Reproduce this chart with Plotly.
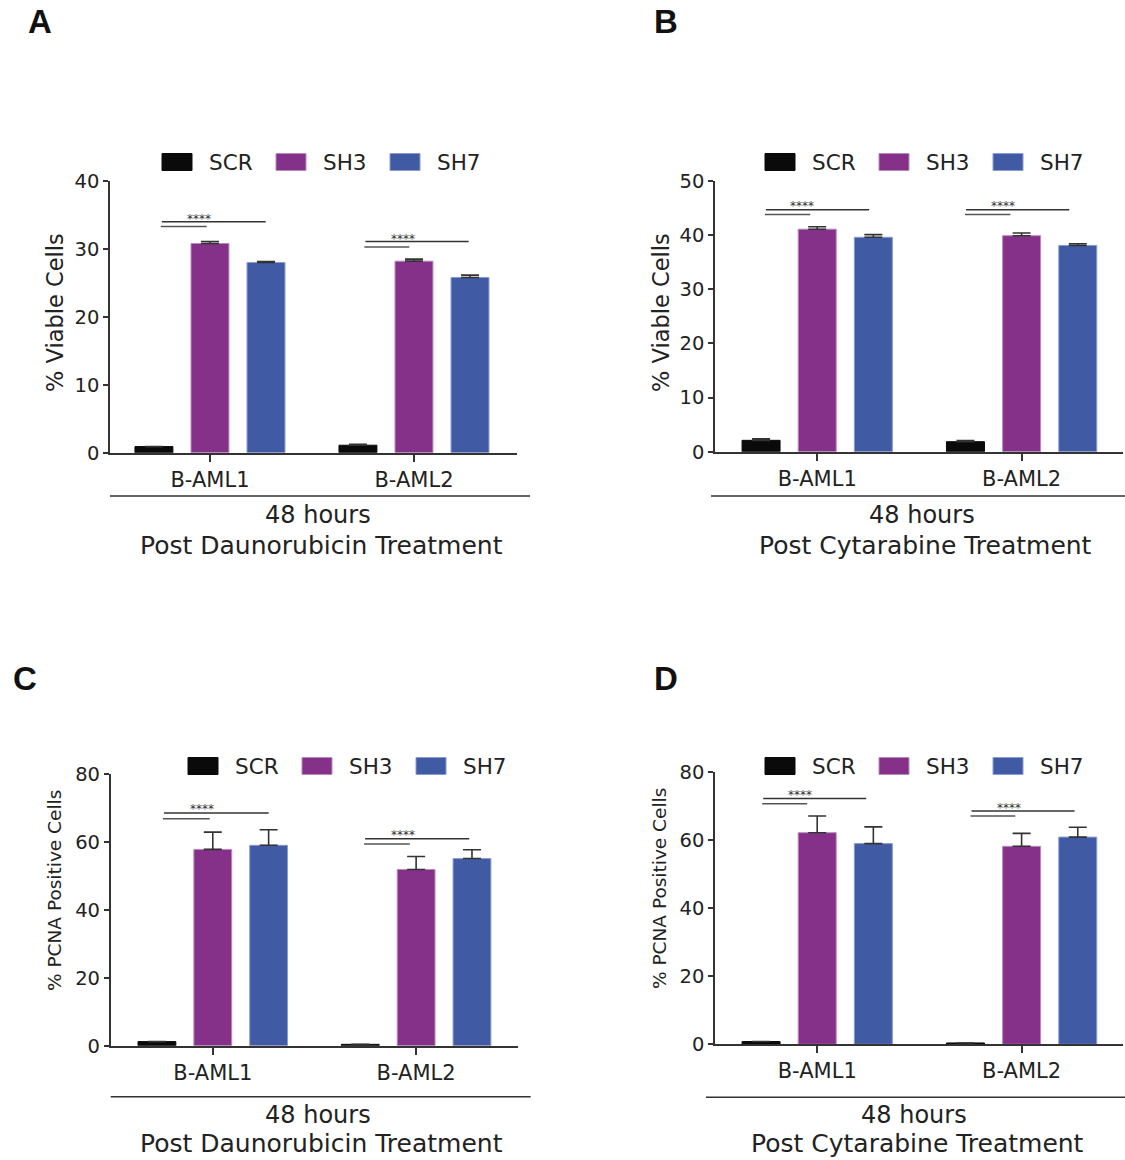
import plotly.graph_objects as go

W, H = 1125, 1160

# ---------------- data ----------------
groups = ["B-AML1", "B-AML2"]
series = ["SCR", "SH3", "SH7"]
colors = ["#0a0a0a", "#853189", "#405aa4"]
edge_colors = ["#0a0a0a", "#b98bbc", "#8a9bd0"]

# Panel A: % viable cells, daunorubicin
a_scr = [0.9, 1.1]
a_sh3 = [30.8, 28.2]
a_sh7 = [28.0, 25.8]
a_scr_err = [0.0, 0.15]
a_sh3_err = [0.3, 0.3]
a_sh7_err = [0.15, 0.35]

# Panel B: % viable cells, cytarabine
b_scr = [2.1, 1.85]
b_sh3 = [41.1, 39.9]
b_sh7 = [39.6, 38.1]
b_scr_err = [0.3, 0.2]
b_sh3_err = [0.45, 0.5]
b_sh7_err = [0.5, 0.3]

# Panel C: % PCNA positive, daunorubicin
c_scr = [1.2, 0.4]
c_sh3 = [57.8, 51.9]
c_sh7 = [59.0, 55.1]
c_scr_err = [0.0, 0.0]
c_sh3_err = [5.1, 3.8]
c_sh7_err = [4.6, 2.6]

# Panel D: % PCNA positive, cytarabine
d_scr = [0.8, 0.4]
d_sh3 = [62.1, 58.1]
d_sh7 = [58.9, 60.8]
d_scr_err = [0.0, 0.0]
d_sh3_err = [4.9, 3.8]
d_sh7_err = [4.9, 2.9]

# y tick values
a_ticks = [0, 10, 20, 30, 40]
b_ticks = [0, 10, 20, 30, 40, 50]
c_ticks = [0, 20, 40, 60, 80]
d_ticks = [0, 20, 40, 60, 80]

# significance brackets (per group): start x, long-line end, short-line end, long y, short y
a_sig_x0 = [-0.236, -0.238]
a_sig_x1_long = [0.273, 0.268]
a_sig_x1_short = [-0.016, -0.023]
a_sig_y_long = [34.0, 31.1]
a_sig_y_short = [33.3, 30.3]
a_star_x = [-0.054, -0.055]
a_star_y = [34.9, 31.9]

b_sig_x0 = [-0.251, -0.272]
b_sig_x1_long = [0.254, 0.233]
b_sig_x1_short = [-0.034, -0.055]
b_sig_y_long = [44.7, 44.7]
b_sig_y_short = [43.8, 43.8]
b_star_x = [-0.072, -0.09]
b_star_y = [46.0, 46.0]

c_sig_x0 = [-0.240, -0.251]
c_sig_x1_long = [0.275, 0.261]
c_sig_x1_short = [-0.015, -0.031]
c_sig_y_long = [68.5, 60.9]
c_sig_y_short = [66.8, 59.4]
c_star_x = [-0.054, -0.064]
c_star_y = [70.6, 62.9]

d_sig_x0 = [-0.264, -0.245]
d_sig_x1_long = [0.240, 0.259]
d_sig_x1_short = [-0.049, -0.031]
d_sig_y_long = [72.1, 68.5]
d_sig_y_short = [70.6, 67.0]
d_star_x = [-0.086, -0.063]
d_star_y = [74.0, 70.3]

sig_label = "****"

# ---------------- layout helpers ----------------
FONT = "DejaVu Sans"
TXT = "#222222"
AX = "#333333"


def px(x):
    return x / W


def py(y):
    return 1 - y / H


panels = [
    dict(letter="A", vals=[a_scr, a_sh3, a_sh7], errs=[a_scr_err, a_sh3_err, a_sh7_err],
         ticks=a_ticks, ytitle="% Viable Cells", ytitle_size=22.5,
         dom_x=(110, 517), dom_y=(181, 452.7), xr=(-0.49, 1.505),
         sig=(a_sig_x0, a_sig_x1_long, a_sig_x1_short, a_sig_y_long, a_sig_y_short, a_star_x, a_star_y),
         ytitle_pos=(55, 313), letter_pos=(40, 22), legend=(162, 162),
         bottom_line=(110, 530, 496), bottom_txt=("48 hours", "Post Daunorubicin Treatment"),
         bottom_pos=(318, 515, 545)),
    dict(letter="B", vals=[b_scr, b_sh3, b_sh7], errs=[b_scr_err, b_sh3_err, b_sh7_err],
         ticks=b_ticks, ytitle="% Viable Cells", ytitle_size=22.5,
         dom_x=(715, 1123), dom_y=(181, 451.7), xr=(-0.50, 1.496),
         sig=(b_sig_x0, b_sig_x1_long, b_sig_x1_short, b_sig_y_long, b_sig_y_short, b_star_x, b_star_y),
         ytitle_pos=(661, 313), letter_pos=(666, 22), legend=(765, 162),
         bottom_line=(711, 1125, 496), bottom_txt=("48 hours", "Post Cytarabine Treatment"),
         bottom_pos=(922, 515, 545)),
    dict(letter="C", vals=[c_scr, c_sh3, c_sh7], errs=[c_scr_err, c_sh3_err, c_sh7_err],
         ticks=c_ticks, ytitle="% PCNA Positive Cells", ytitle_size=18.5,
         dom_x=(110.7, 518), dom_y=(774, 1045.7), xr=(-0.502, 1.501),
         sig=(c_sig_x0, c_sig_x1_long, c_sig_x1_short, c_sig_y_long, c_sig_y_short, c_star_x, c_star_y),
         ytitle_pos=(54, 891), letter_pos=(25, 678), legend=(188, 766),
         bottom_line=(110.7, 530.7, 1096.7), bottom_txt=("48 hours", "Post Daunorubicin Treatment"),
         bottom_pos=(318, 1115, 1143)),
    dict(letter="D", vals=[d_scr, d_sh3, d_sh7], errs=[d_scr_err, d_sh3_err, d_sh7_err],
         ticks=d_ticks, ytitle="% PCNA Positive Cells", ytitle_size=18.5,
         dom_x=(715, 1123), dom_y=(771.7, 1044.3), xr=(-0.50, 1.496),
         sig=(d_sig_x0, d_sig_x1_long, d_sig_x1_short, d_sig_y_long, d_sig_y_short, d_star_x, d_star_y),
         ytitle_pos=(660, 889), letter_pos=(666, 678), legend=(765, 766),
         bottom_line=(706, 1125, 1097.3), bottom_txt=("48 hours", "Post Cytarabine Treatment"),
         bottom_pos=(914, 1115, 1143)),
]

fig = go.Figure()
shapes = []
annotations = []
layout_axes = {}
xpos = list(range(len(groups)))

for i, p in enumerate(panels):
    n = "" if i == 0 else str(i + 1)
    xa, ya = "x" + n, "y" + n
    for s, name in enumerate(series):
        fig.add_trace(go.Bar(
            x=xpos, y=p["vals"][s], name=name, showlegend=False,
            xaxis=xa, yaxis=ya,
            marker=dict(color=colors[s], line=dict(color=edge_colors[s], width=1)),
            error_y=dict(type="data", array=p["errs"][s], arrayminus=[0] * len(groups),
                         symmetric=False, color=AX, thickness=1.6, width=9),
        ))
    ymax = p["ticks"][-1]
    layout_axes["xaxis" + n] = dict(
        domain=[px(p["dom_x"][0]), px(p["dom_x"][1])], anchor=ya,
        range=list(p["xr"]), tickmode="array", tickvals=xpos, ticktext=groups,
        showline=True, linecolor=AX, linewidth=1.6, ticks="outside", ticklen=7,
        tickwidth=1.6, tickcolor=AX, showgrid=False, zeroline=False, automargin=False,
        tickfont=dict(family=FONT, size=21, color=TXT), fixedrange=True,
    )
    layout_axes["yaxis" + n] = dict(
        domain=[py(p["dom_y"][1]), py(p["dom_y"][0])], anchor=xa,
        range=[0, ymax], tickmode="array", tickvals=p["ticks"],
        showline=True, linecolor=AX, linewidth=1.6, ticks="outside", ticklen=5,
        tickwidth=1.6, tickcolor=AX, showgrid=False, zeroline=False, automargin=False,
        tickfont=dict(family=FONT, size=19.5, color=TXT), fixedrange=True,
    )
    # significance brackets
    x0s, x1l, x1s, yl, ys, sx, sy = p["sig"]
    for g in range(len(groups)):
        shapes.append(dict(type="line", xref=xa, yref=ya, x0=xpos[g] + x0s[g], x1=xpos[g] + x1l[g],
                           y0=yl[g], y1=yl[g], line=dict(color=AX, width=1.5)))
        shapes.append(dict(type="line", xref=xa, yref=ya, x0=xpos[g] + x0s[g] - 0.005, x1=xpos[g] + x1s[g],
                           y0=ys[g], y1=ys[g], line=dict(color="#555555", width=1.5)))
        annotations.append(dict(x=xpos[g] + sx[g], y=sy[g], xref=xa, yref=ya, text=sig_label,
                                showarrow=False, xanchor="center", yanchor="middle", yshift=-3,
                                font=dict(family=FONT, size=12, color="#333333")))
    # y axis title
    annotations.append(dict(x=px(p["ytitle_pos"][0]), y=py(p["ytitle_pos"][1]), xref="paper", yref="paper",
                            text=p["ytitle"], textangle=-90, showarrow=False,
                            xanchor="center", yanchor="middle",
                            font=dict(family=FONT, size=p["ytitle_size"], color=TXT)))
    # panel letter
    annotations.append(dict(x=px(p["letter_pos"][0]), y=py(p["letter_pos"][1]), xref="paper", yref="paper",
                            text="<b>%s</b>" % p["letter"], showarrow=False,
                            xanchor="center", yanchor="middle",
                            font=dict(family="Liberation Sans", size=33, color="#111111")))
    # legend (manual)
    lx, ly = p["legend"]
    for s, name in enumerate(series):
        x0 = lx + s * 114
        shapes.append(dict(type="rect", xref="paper", yref="paper",
                           x0=px(x0), x1=px(x0 + 30), y0=py(ly + 8.5), y1=py(ly - 8.5),
                           fillcolor=colors[s], line=dict(color=edge_colors[s], width=1)))
        annotations.append(dict(x=px(x0 + 45), y=py(ly), xref="paper", yref="paper", text=name,
                                showarrow=False, xanchor="left", yanchor="middle",
                                font=dict(family=FONT, size=21.5, color=TXT)))
    # bottom grouping line and text
    bx0, bx1, by = p["bottom_line"]
    shapes.append(dict(type="line", xref="paper", yref="paper", x0=px(bx0), x1=px(bx1),
                       y0=py(by), y1=py(by), line=dict(color=AX, width=1.6)))
    cx, t1y, t2y = p["bottom_pos"]
    annotations.append(dict(x=px(cx), y=py(t1y), xref="paper", yref="paper", text=p["bottom_txt"][0],
                            showarrow=False, xanchor="center", yanchor="middle",
                            font=dict(family=FONT, size=24, color=TXT)))
    annotations.append(dict(x=px(cx + 3), y=py(t2y), xref="paper", yref="paper", text=p["bottom_txt"][1],
                            showarrow=False, xanchor="center", yanchor="middle",
                            font=dict(family=FONT, size=25, color=TXT)))

fig.update_layout(
    width=W, height=H, margin=dict(l=0, r=0, t=0, b=0, pad=0), autosize=False,
    paper_bgcolor="white", plot_bgcolor="white",
    barmode="group", bargap=0.176, bargroupgap=0.323,
    showlegend=False, shapes=shapes, annotations=annotations,
    font=dict(family=FONT, color=TXT),
    **layout_axes,
)

fig.write_html(
    "out.html",
    config={"displayModeBar": False},
    post_script="document.body.style.margin='0';document.body.style.overflow='hidden';",
)
